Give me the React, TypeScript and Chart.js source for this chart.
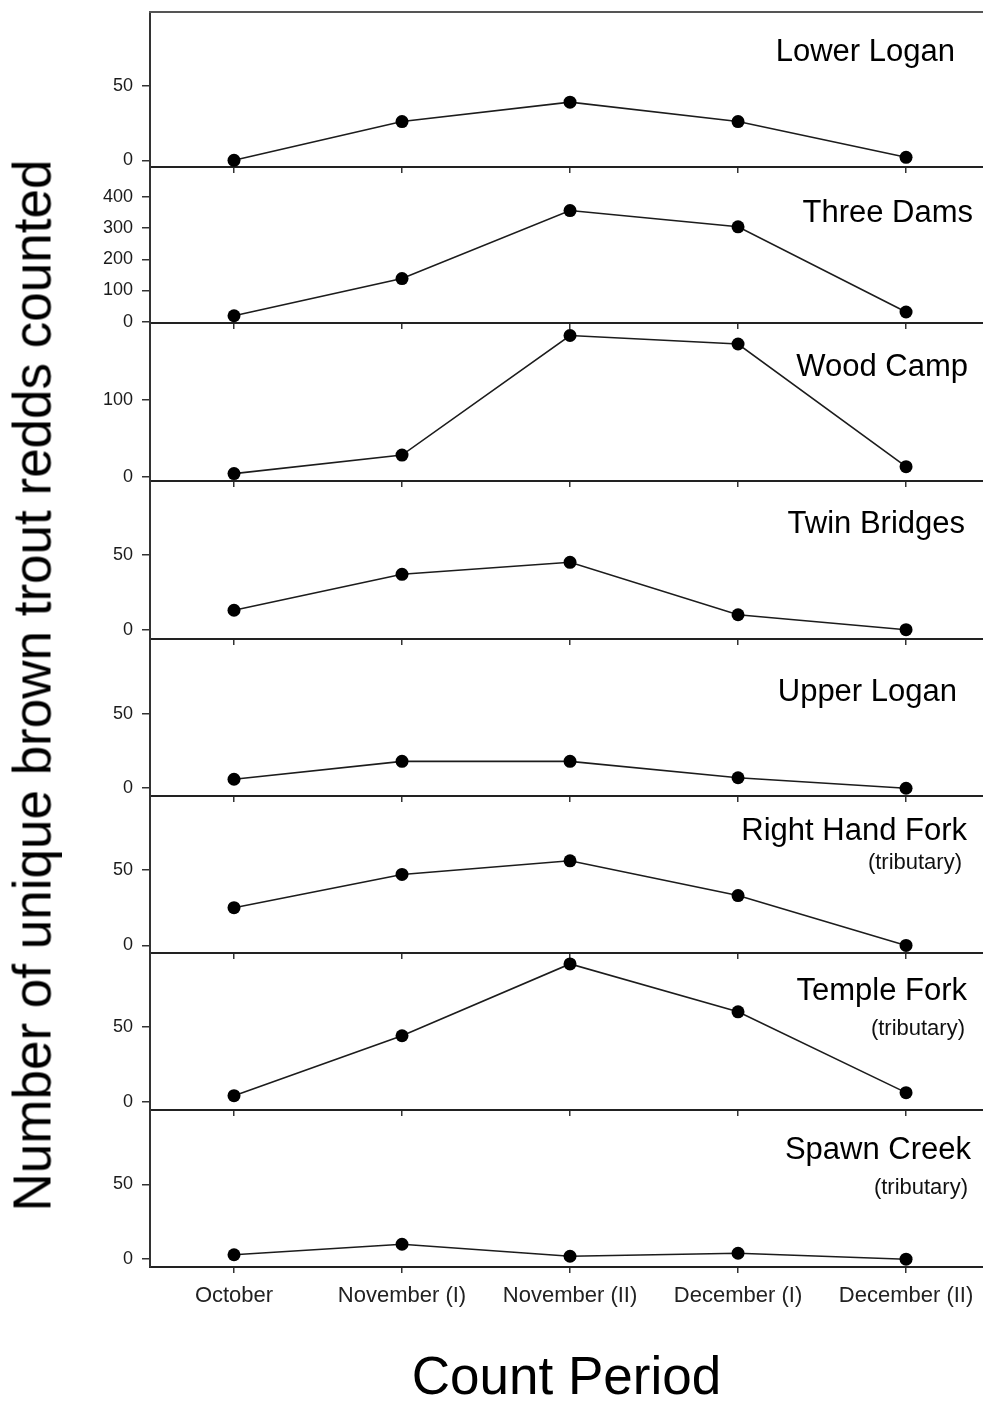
import React, { useEffect, useRef } from 'react';
import { Chart, registerables } from 'chart.js';

Chart.register(...registerables);

const W = 983;
const H = 1407;
const FONT = '"Liberation Sans", Arial, Helvetica, sans-serif';

// ---- data ----
const PERIODS = ['October', 'November (I)', 'November (II)', 'December (I)', 'December (II)'];

const LOWER_LOGAN = [0, 26, 39, 26, 2];
const THREE_DAMS = [19, 138, 356, 304, 31];
const WOOD_CAMP = [4, 28, 183, 172, 13];
const TWIN_BRIDGES = [13, 37, 45, 10, 0];
const UPPER_LOGAN = [6, 18, 18, 7, 0];
const RIGHT_HAND_FORK = [25, 47, 56, 33, 0];
const TEMPLE_FORK = [4, 44, 92, 60, 6];
const SPAWN_CREEK = [3, 10, 2, 4, 0];

const PANEL_NAMES = ['Lower Logan', 'Three Dams', 'Wood Camp', 'Twin Bridges', 'Upper Logan', 'Right Hand Fork', 'Temple Fork', 'Spawn Creek'];
const PANEL_NOTES = ['', '', '', '', '', '(tributary)', '(tributary)', '(tributary)'];
const PANEL_SERIES = [LOWER_LOGAN, THREE_DAMS, WOOD_CAMP, TWIN_BRIDGES, UPPER_LOGAN, RIGHT_HAND_FORK, TEMPLE_FORK, SPAWN_CREEK];

const TICKS_50 = [0, 50];
const TICKS_400 = [0, 100, 200, 300, 400];
const TICKS_100 = [0, 100];
const PANEL_TICKS = [TICKS_50, TICKS_400, TICKS_100, TICKS_50, TICKS_50, TICKS_50, TICKS_50, TICKS_50];

const Y_MIN = [-4.5, -4.2, -5.6, -6.2, -5.2, -5, -5.6, -5.2];
const Y_MAX = [99.5, 495.5, 199.2, 99.3, 99.9, 98.9, 99.3, 99.7];
const X_MIN = -0.5;
const X_MAX = 4.458;

// ---- layout ----
const PANEL_TOPS = [12, 167, 323, 481, 639, 796, 953, 1110];
const LAST_BOTTOM = 1267;
const PAD_TOP = 12;
const XAXIS_H = 8;
const Y_AXIS_W = 150;

const LABEL_RIGHT = [955, 973, 968, 965, 957, 967, 967, 971];
const LABEL_CY = [50, 211, 365, 522, 690, 829, 989, 1148];
const NOTE_RIGHT = [0, 0, 0, 0, 0, 962, 965, 968];
const NOTE_CY = [0, 0, 0, 0, 0, 864, 1030, 1189];
const LABEL_FS = 31;
const NOTE_FS = 22;

function Panel({ index }: { index: number }) {
  const ref = useRef<HTMLCanvasElement>(null);
  const isLast = index === PANEL_TOPS.length - 1;
  const top = PANEL_TOPS[index];
  const bottom = isLast ? LAST_BOTTOM : PANEL_TOPS[index + 1];
  const canvasTop = top - PAD_TOP;
  const canvasH = isLast ? H - canvasTop : bottom - canvasTop + XAXIS_H;

  useEffect(() => {
    if (!ref.current) return;
    const xAxisH = isLast ? H - bottom : XAXIS_H;
    const scales: any = {
      x: {
        type: 'linear',
        position: 'bottom',
        min: X_MIN,
        max: X_MAX,
        afterBuildTicks: (s: any) => {
          s.ticks = PERIODS.map((_, i) => ({ value: i }));
        },
        afterFit: (s: any) => {
          s.height = xAxisH;
          s.paddingLeft = 0;
          s.paddingRight = 0;
        },
        grid: { display: true, drawOnChartArea: false, drawTicks: true, tickLength: 6, tickColor: '#333', tickWidth: 1.5, lineWidth: 1.5 },
        border: { display: true, color: '#222', width: 2 },
        ticks: {
          display: isLast,
          padding: 10,
          color: '#222',
          maxRotation: 0,
          autoSkip: false,
          font: { family: FONT, size: 22 },
          callback: (v: any) => PERIODS[Math.round(v)] ?? '',
        },
        title: {
          display: isLast,
          text: 'Count Period',
          color: '#000',
          font: { family: FONT, size: 53, lineHeight: 1 },
          padding: { top: 0, bottom: 1 },
        },
      },
      y: {
        type: 'linear',
        position: 'left',
        min: Y_MIN[index],
        max: Y_MAX[index],
        afterBuildTicks: (s: any) => {
          s.ticks = PANEL_TICKS[index].map((v) => ({ value: v }));
        },
        afterFit: (s: any) => {
          s.width = Y_AXIS_W;
          s.paddingTop = 0;
          s.paddingBottom = 0;
        },
        grid: { display: true, drawOnChartArea: false, drawTicks: true, tickLength: 8, tickColor: '#333', tickWidth: 1.5, lineWidth: 1.5 },
        border: { display: true, color: '#333', width: 2 },
        ticks: {
          padding: 9,
          color: '#1a1a1a',
          font: { family: FONT, size: 18 },
          callback: (v: any) => String(v),
        },
      },
    };
    if (index === 0) {
      scales.xTop = {
        type: 'linear',
        position: 'top',
        min: X_MIN,
        max: X_MAX,
        afterFit: (s: any) => {
          s.height = 0;
          s.paddingLeft = 0;
          s.paddingRight = 0;
        },
        grid: { display: true, drawOnChartArea: false, drawTicks: false },
        border: { display: true, color: '#555', width: 2 },
        ticks: { display: false },
      };
    }
    const chart = new Chart(ref.current, {
      type: 'line',
      data: {
        datasets: [
          {
            label: PANEL_NAMES[index],
            data: PANEL_SERIES[index].map((v, i) => ({ x: i, y: v })),
            borderColor: '#1c1c1c',
            borderWidth: 1.6,
            pointRadius: 6.5,
            pointBackgroundColor: '#000',
            pointBorderColor: '#000',
            pointBorderWidth: 0,
            tension: 0,
            clip: false as any,
          },
        ],
      },
      options: {
        animation: false,
        responsive: false,
        maintainAspectRatio: false,
        devicePixelRatio: 1,
        layout: { autoPadding: false, padding: { top: PAD_TOP, left: 0, right: 0, bottom: 0 } },
        plugins: { legend: { display: false }, tooltip: { enabled: false }, title: { display: false } },
        events: [],
        scales,
      } as any,
    });
    return () => chart.destroy();
  }, [index]);

  return (
    <canvas
      ref={ref}
      width={W}
      height={canvasH}
      style={{ position: 'absolute', left: 0, top: canvasTop, width: W, height: canvasH, display: 'block' }}
    />
  );
}

export default function App() {
  useEffect(() => {
    document.documentElement.style.overflow = 'hidden';
    document.body.style.overflow = 'hidden';
    document.body.style.margin = '0';
  }, []);

  return (
    <div style={{ position: 'absolute', left: 0, top: 0, width: W, height: H, overflow: 'hidden', background: '#fff', fontFamily: FONT }}>
      {PANEL_TOPS.map((_, i) => (
        <Panel key={i} index={i} />
      ))}
      {PANEL_NAMES.map((name, i) => (
        <div
          key={'n' + i}
          style={{
            position: 'absolute',
            right: W - LABEL_RIGHT[i],
            top: LABEL_CY[i] - 0.488 * LABEL_FS,
            fontSize: LABEL_FS,
            lineHeight: LABEL_FS + 'px',
            whiteSpace: 'nowrap',
            color: '#000',
            pointerEvents: 'none',
          }}
        >
          {name}
        </div>
      ))}
      {PANEL_NOTES.map((note, i) =>
        note ? (
          <div
            key={'t' + i}
            style={{
              position: 'absolute',
              right: W - NOTE_RIGHT[i],
              top: NOTE_CY[i] - 12.9,
              fontSize: NOTE_FS,
              lineHeight: NOTE_FS + 'px',
              whiteSpace: 'nowrap',
              color: '#111',
              pointerEvents: 'none',
            }}
          >
            {note}
          </div>
        ) : null
      )}
      <div
        style={{
          position: 'absolute',
          left: 32 - 600,
          top: 685 - 26.5,
          width: 1200,
          height: 53,
          fontSize: 53,
          lineHeight: '53px',
          textAlign: 'center',
          whiteSpace: 'nowrap',
          color: '#000',
          transform: 'rotate(-90deg)',
          transformOrigin: '50% 50%',
          pointerEvents: 'none',
        }}
      >
        Number of unique brown trout redds counted
      </div>
    </div>
  );
}
